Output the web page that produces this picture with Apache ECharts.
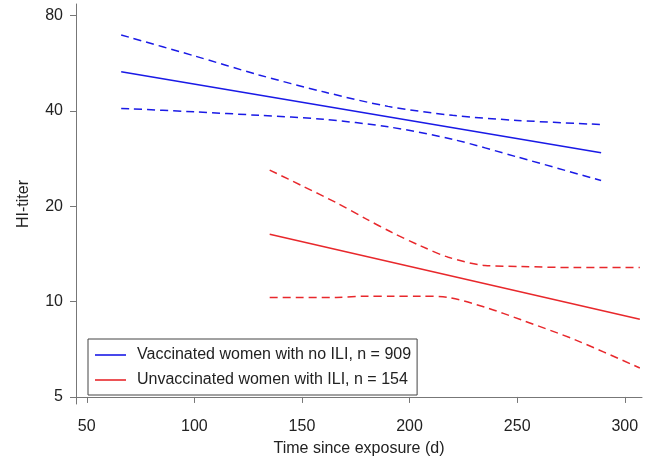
<!DOCTYPE html>
<html><head><meta charset="utf-8">
<script src="https://cdn.jsdelivr.net/npm/echarts@6/dist/echarts.min.js"></script>
<style>html,body{margin:0;padding:0;background:#fff}#c{width:654px;height:462px}</style>
</head><body><div id="c"></div>
<script>
// ---- data ----
const yTickValues = [5, 10, 20, 40, 80];
const xTickValues = [50, 100, 150, 200, 250, 300];

const vacName = 'Vaccinated women with no ILI, n = 909';
const vacDays = [66, 289];
const vacFit = [53.1, 29.5];
const vacCIDays = [66, 100, 130, 160, 190, 220, 250, 289];
const vacUpper = [69.4, 59.6, 51.9, 45.9, 41.3, 38.7, 37.3, 36.2];
const vacLower = [40.7, 39.7, 38.7, 37.6, 35.6, 32.5, 28.6, 24.1];

const unvName = 'Unvaccinated women with ILI, n = 154';
const unvDays = [135, 307];
const unvFit = [16.3, 8.8];
const unvCIDays = [135, 150, 166, 180, 192, 205, 218, 235, 252, 277, 307];
const unvUpper = [26.0, 23.2, 20.5, 18.2, 16.5, 15.0, 13.8, 13.0, 12.9, 12.8, 12.8];
const unvLower = [10.3, 10.3, 10.3, 10.4, 10.4, 10.4, 10.3, 9.6, 8.75, 7.57, 6.17];

// log2 scale of the titer axis (relative to the lowest tick)
const BASE = 5;
const toLog = v => Math.log2(v / BASE);
const fromLog = t => BASE * Math.pow(2, t);
const pairs = (xs, ys) => xs.map((x, i) => [x, toLog(ys[i])]);

const BLUE = '#1a1ae6';
const RED = '#e8282c';
const FONT = 'Liberation Sans, Arial, sans-serif';
const FS = 16;

const chart = echarts.init(document.getElementById('c'), null, {renderer: 'canvas'});
chart.setOption({
  animation: false,
  backgroundColor: '#fff',
  grid: {left: 76, right: 12, top: 4, bottom: 58, containLabel: false},
  xAxis: {
    type: 'value', min: 45, max: 308,
    name: 'Time since exposure (d)', nameLocation: 'middle', nameGap: 37,
    nameTextStyle: {fontSize: FS, color: '#222', fontFamily: FONT},
    axisLine: {lineStyle: {color: '#777', width: 1}},
    axisTick: {length: 6, lineStyle: {color: '#777'}, customValues: xTickValues},
    axisLabel: {fontSize: FS, color: '#222', fontFamily: FONT, margin: 15, customValues: xTickValues},
    splitLine: {show: false}
  },
  yAxis: {
    type: 'value', min: toLog(4.75), max: toLog(86.9),
    name: 'HI-titer', nameLocation: 'middle', nameGap: 44, nameRotate: 90,
    nameTextStyle: {fontSize: FS, color: '#222', fontFamily: FONT},
    axisLine: {show: true, lineStyle: {color: '#777', width: 1}},
    axisTick: {show: true, length: 6, lineStyle: {color: '#777'}, customValues: yTickValues.map(toLog)},
    axisLabel: {fontSize: FS, color: '#222', fontFamily: FONT, margin: 13,
      customValues: yTickValues.map(toLog),
      formatter: v => String(Math.round(fromLog(v)))},
    splitLine: {show: false}
  },
  legend: {
    data: [{name: vacName, icon: 'rect'}, {name: unvName, icon: 'rect'}],
    orient: 'vertical', left: 88, top: 339,
    padding: [8, 6, 7, 7],
    itemWidth: 31, itemHeight: 1.6, itemGap: 9,
    borderColor: '#444', borderWidth: 1,
    textStyle: {fontSize: FS, lineHeight: 16, color: '#222', fontFamily: FONT, padding: [0, 0, 0, 6]}
  },
  series: [
    {name: vacName, type: 'line', data: pairs(vacDays, vacFit), symbol: 'none', showSymbol: false,
     lineStyle: {color: BLUE, width: 1.5}, itemStyle: {color: BLUE}},
    {name: vacName + ' upper', type: 'line', data: pairs(vacCIDays, vacUpper), symbol: 'none', smooth: 0.3,
     lineStyle: {color: BLUE, width: 1.5, type: [8, 5]}},
    {name: vacName + ' lower', type: 'line', data: pairs(vacCIDays, vacLower), symbol: 'none', smooth: 0.3,
     lineStyle: {color: BLUE, width: 1.5, type: [8, 5]}},
    {name: unvName, type: 'line', data: pairs(unvDays, unvFit), symbol: 'none', showSymbol: false,
     lineStyle: {color: RED, width: 1.5}, itemStyle: {color: RED}},
    {name: unvName + ' upper', type: 'line', data: pairs(unvCIDays, unvUpper), symbol: 'none', smooth: 0.3,
     lineStyle: {color: RED, width: 1.5, type: [8, 5]}},
    {name: unvName + ' lower', type: 'line', data: pairs(unvCIDays, unvLower), symbol: 'none', smooth: 0.3,
     lineStyle: {color: RED, width: 1.5, type: [8, 5]}}
  ]
});
</script>
</body></html>
